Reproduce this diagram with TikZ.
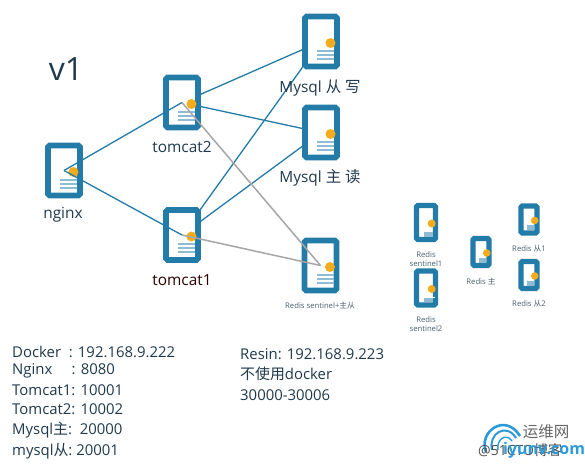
\documentclass[tikz,border=0pt]{standalone}
\usepackage{fontspec}
\setmainfont{Open Sans}
\newfontfamily\cjk{Noto Sans CJK SC}
\usetikzlibrary{backgrounds}
\definecolor{srvblue}{HTML}{237CA8}
\definecolor{srvline}{HTML}{8FBCD4}
\definecolor{srvdot}{HTML}{F4AC1C}
\definecolor{txtdark}{HTML}{1F3A4D}
\definecolor{linkgray}{HTML}{A6A6A6}
\definecolor{wmblue}{HTML}{2A9AD8}
\tikzset{
  srvbox/.style={draw=srvblue,fill=white,rounded corners=1.5pt,inner sep=0pt,outer sep=0pt},
  srvdotstyle/.style={fill=srvdot,draw=none},
  bluelink/.style={draw=srvblue,line width=1.3pt},
  graylink/.style={draw=linkgray,line width=1.5pt},
  biglabel/.style={text=txtdark,font=\fontsize{15.4}{18}\selectfont,inner sep=0pt,anchor=center},
  smalllabel/.style={text=txtdark!80,font=\fontsize{7.7}{9.5}\selectfont,inner sep=0pt,align=center},
  info/.style={text=txtdark,font=\fontsize{14.9}{17}\selectfont,inner sep=0pt,anchor=west}
}
% big icon: name, cx, cy
\newcommand{\bigsrv}[3]{%
  \node[srvbox,line width=5.6pt,minimum width=32pt,minimum height=50pt] (#1) at (#2,#3) {};
  \foreach \d in {9,13,17}{\draw[srvline,line width=2pt] ([shift={(-4,\d)}]#1.center) -- ++(17,0);}
  \fill[srvdotstyle] ([shift={(9.5,1.5)}]#1.center) circle (5pt);
}
% small icon: name, cx, cy, w, h, dotdx, dotdy, r
\newcommand{\smallsrv}[8]{%
  \node[srvbox,line width=5.4pt,minimum width=#4pt,minimum height=#5pt] (#1) at (#2,#3) {};
  \fill[srvline] ([shift={(-2,#5/2-8)}]#1.center) rectangle ([shift={(#4/2-3,#5/2-2.8)}]#1.center);
  \fill[srvdotstyle] ([shift={(#6,#7)}]#1.center) circle (#8pt);
}
\begin{document}
\begin{tikzpicture}[x=1pt,y=-1pt]
\useasboundingbox (0,0) rectangle (585,466);
\node[text=txtdark,font=\fontsize{32}{35}\selectfont,inner sep=0pt] (vone) at (66,69) {v1};

\bigsrv{nginx}{64}{170.5}
\bigsrv{tomcattwo}{182}{102.5}
\bigsrv{tomcatone}{182}{235}
\bigsrv{mysqlw}{321}{41.5}
\bigsrv{mysqlr}{321}{132.5}

\begin{scope}[on background layer]
\fill[white] (0,0) rectangle (585,466);
\draw[bluelink] (tomcattwo.center) -- (mysqlw.center);
\draw[bluelink] (tomcattwo.center) -- (mysqlr.center);
\draw[bluelink] (tomcatone.center) -- (mysqlw.center);
\draw[bluelink] (tomcatone.center) -- (mysqlr.center);
\end{scope}

\draw[bluelink] (nginx.center) -- (tomcattwo.center);
\draw[bluelink] (nginx.center) -- (tomcatone.center);

\bigsrv{sentinel}{320.5}{265.5}
\draw[graylink] (tomcattwo.center) -- (sentinel.center);
\draw[graylink] (tomcatone.center) -- (sentinel.center);

\node[biglabel] (lnginx) at (63,215) {nginx};
\node[biglabel] (ltwo) at (182,147) {tomcat2};
\node[biglabel,text=black!50!red!35!black] (lone) at (182,280) {tomcat1};
\node[biglabel] (lw) at (320,88) {Mysql {\cjk 从} {\cjk 写}};
\node[biglabel] (lr) at (320,178) {Mysql {\cjk 主} {\cjk 读}};
\node[smalllabel] (ls) at (320,306) {Redis sentinel+{\cjk 主从}};

\smallsrv{rsone}{426}{222.5}{19}{34}{5.7}{1}{4}
\smallsrv{rstwo}{426}{288}{19}{34}{5.7}{1}{4}
\draw[white,line width=.7pt] ([shift={(-2,9)}]rstwo.center) -- ++(11,0);
\smallsrv{rmain}{481}{252}{16}{27}{5.7}{1}{3.8}
\smallsrv{rsa}{529}{219.5}{16}{27}{5.7}{1}{3.8}
\smallsrv{rsb}{529}{275}{16}{27}{5.7}{1}{3.8}

\node[smalllabel] (lrs1) at (426,259) {Redis\\sentinel1};
\node[smalllabel] (lrs2) at (426,324) {Redis\\sentinel2};
\node[smalllabel] (lrm) at (481,281) {Redis {\cjk 主}};
\node[smalllabel] (lra) at (529,249) {Redis {\cjk 从}1};
\node[smalllabel] (lrb) at (529,304) {Redis {\cjk 从}2};

\node[info] (i1) at (12,352) {Docker\ \ : 192.168.9.222};
\node[info] (i2) at (12,371) {Nginx\ \ \ \ \ : 8080};
\node[info] (i3) at (12,390) {Tomcat1: 10001};
\node[info] (i4) at (12,409) {Tomcat2: 10002};
\node[info] (i5) at (12,430) {Mysql{\cjk 主}:\ \ 20000};
\node[info] (i6) at (12,451) {mysql{\cjk 从}:\ 20001};

\node[info] (r1) at (240,354) {Resin: 192.168.9.223};
\node[info] (r2) at (240,374) {{\cjk 不使用}docker};
\node[info] (r3) at (240,395) {30000-30006};

% watermark
\draw[wmblue,line width=2.6pt] (486,452) .. controls (478,432) and (505,412) .. (520,436);
\draw[wmblue,line width=2pt] (492,450) .. controls (488,434) and (506,422) .. (516,438);
\draw[wmblue,line width=1.4pt] (498,450) .. controls (496,440) and (506,432) .. (512,441);
\node[text=black!60,font=\cjk\fontsize{15.5}{17}\selectfont,inner sep=0pt] (wm1) at (546,432) {运维网};
\node[text=black!70,font=\fontsize{14}{16}\selectfont,inner sep=0pt,anchor=west] (wm2) at (478,450) {@51CTO{\cjk 博客}};
\node[text=wmblue,font=\bfseries\fontsize{16}{18}\selectfont,inner sep=0pt,anchor=west] (wm3) at (503,450) {iyunv.com};
\end{tikzpicture}
\end{document}
